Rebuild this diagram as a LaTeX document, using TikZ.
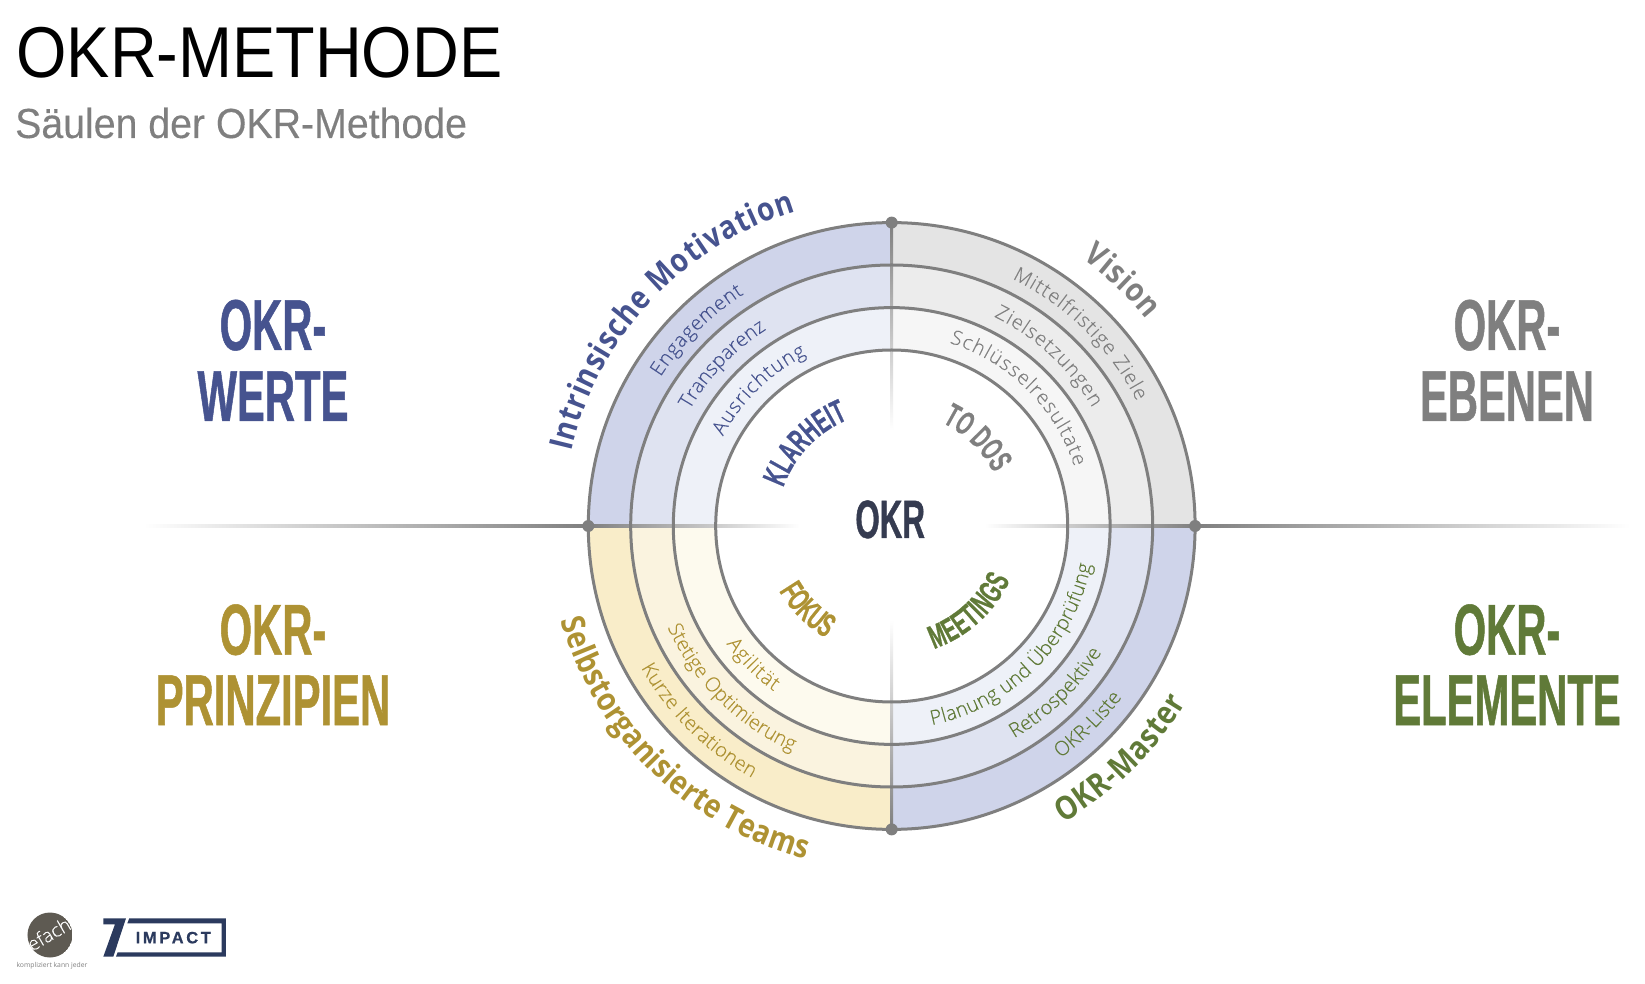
\documentclass[tikz,border=0pt]{standalone}
\usepackage{fontspec}
\setmainfont{Liberation Sans}
\newfontfamily\titlefont[FakeStretch=0.9]{Liberation Sans}
\newfontfamily\subfont[FakeStretch=0.935,FakeBold=0.3]{Liberation Sans}
\newfontfamily\condfont[FakeStretch=0.58,FakeBold=0.7]{Liberation Sans}
\newfontfamily\ringfont[FakeStretch=0.86]{Open Sans}
\newfontfamily\plainfont{Open Sans}
\newfontfamily\lightfont[FakeBold=0.15]{Open Sans Light}
\newfontfamily\logofont[LetterSpace=16,FakeBold=0.5]{Liberation Sans}
\usetikzlibrary{decorations.text}
\definecolor{bluetext}{HTML}{46538F}
\definecolor{goldtext}{HTML}{AE9233}
\definecolor{greentext}{HTML}{607A38}
\definecolor{greytext}{HTML}{7F7F7F}
\definecolor{okrtext}{HTML}{353B50}
\definecolor{navylogo}{HTML}{2B3A5E}
\definecolor{efachlogo}{HTML}{5E5A52}
\definecolor{blueA}{HTML}{CFD4EA}
\definecolor{blueB}{HTML}{DFE3F1}
\definecolor{blueC}{HTML}{EEF1F8}
\definecolor{greyA}{HTML}{E4E4E4}
\definecolor{greyB}{HTML}{ECECEC}
\definecolor{greyC}{HTML}{F6F6F6}
\definecolor{goldA}{HTML}{F9EDC9}
\definecolor{goldB}{HTML}{FAF3DF}
\definecolor{goldC}{HTML}{FDFAEE}
\tikzset{ringline/.style={draw=greytext,line width=3pt},
    dotmark/.style={circle,fill=greytext,inner sep=0pt,minimum size=12pt},
    bigword/.style={inner sep=0pt,anchor=base,font=\condfont\bfseries\fontsize{72}{72}\selectfont}}
\newcommand{\ringtext}[5]{\path[decorate,decoration={text along path,text align={fit to path},text={|#4|#5}}] (#2:#1) arc (#2:#3:#1);}
\newcommand{\quarter}[5]{\fill[#2] (0,0)--(#1:\rd) arc (#1:#1+90:\rd)--cycle;
    \fill[#3] (0,0)--(#1:\rc) arc (#1:#1+90:\rc)--cycle;
    \fill[#4] (0,0)--(#1:\rb) arc (#1:#1+90:\rb)--cycle;}
\begin{document}
\begin{tikzpicture}[x=1pt,y=1pt]
    \def\ra{176}
    \def\rb{218.4}
    \def\rc{261}
    \def\rd{303.4}
    \def\bigsize{\fontsize{32.5}{33}\selectfont}
    \def\midsize{\fontsize{20}{20}\selectfont}
    \def\smallsize{\fontsize{33}{33}\selectfont}
    \useasboundingbox (-891.7,-458) rectangle (753.3,526);
    \quarter{90}{blueA}{blueB}{blueC}{}
    \quarter{0}{greyA}{greyB}{greyC}{}
    \quarter{180}{goldA}{goldB}{goldC}{}
    \quarter{270}{blueA}{blueB}{blueC}{}
    \fill[white] (0,0) circle(\ra);
    \shade[left color=white,right color=greytext] (-748,-1.5) rectangle (-\rd,1.5);
    \shade[left color=greytext,right color=white] (-\rd,-1.5) rectangle (-92,1.5);
    \shade[left color=white,right color=greytext] (93,-1.5) rectangle (\rd,1.5);
    \shade[left color=greytext,right color=white] (\rd,-1.5) rectangle (738,1.5);
    \shade[bottom color=white,top color=greytext] (-1.5,96) rectangle (1.5,\rd);
    \shade[top color=white,bottom color=greytext] (-1.5,-\rd) rectangle (1.5,-94);
    \foreach \r in {\ra,\rb,\rc,\rd}
        \draw[ringline] (0,0) circle(\r);
    \node[dotmark] (dotleft) at (-\rd,0) {};
    \node[dotmark] (dotright) at (\rd,0) {};
    \node[dotmark] (dottop) at (0,\rd) {};
    \node[dotmark] (dotbottom) at (0,-\rd) {};
    \ringtext{329}{167}{107}{\ringfont\bfseries\bigsize\color{bluetext}}{Intrinsische Motivation}
    \ringtext{275}{147.2}{122.5}{\lightfont\midsize\color{bluetext}}{Engagement}
    \ringtext{233}{150.1}{122.5}{\lightfont\midsize\color{bluetext}}{Transparenz}
    \ringtext{191}{152}{116.5}{\lightfont\midsize\color{bluetext}}{Ausrichtung}
    \ringtext{115}{160.5}{113.3}{\condfont\bfseries\smallsize\color{bluetext}}{KLARHEIT}
    \ringtext{328}{54.5}{39}{\ringfont\bfseries\bigsize\color{greytext}}{Vision}
    \ringtext{275}{64}{27}{\lightfont\midsize\color{greytext}}{Mittelfristige Ziele}
    \ringtext{233}{64}{30.5}{\lightfont\midsize\color{greytext}}{Zielsetzungen}
    \ringtext{192}{72.5}{18}{\lightfont\midsize\color{greytext}}{Schlüsselresultate}
    \ringtext{115}{64}{30}{\condfont\bfseries\smallsize\color{greytext}}{TO DOS}
    \ringtext{344}{196}{255.5}{\ringfont\bfseries\bigsize\color{goldtext}}{Selbstorganisierte Teams}
    \ringtext{288}{209.5}{241}{\lightfont\midsize\color{goldtext}}{Kurze Iterationen}
    \ringtext{246}{204.3}{246}{\lightfont\midsize\color{goldtext}}{Stetige Optimierung}
    \ringtext{203}{215.5}{234.5}{\lightfont\midsize\color{goldtext}}{Agilität}
    \ringtext{130}{210}{239.5}{\condfont\bfseries\smallsize\color{goldtext}}{FOKUS}
    \ringtext{343}{300}{329}{\ringfont\bfseries\bigsize\color{greentext}}{OKR-Master}
    \ringtext{287}{306}{323}{\lightfont\midsize\color{greentext}}{OKR-Liste}
    \ringtext{245}{300}{329}{\lightfont\midsize\color{greentext}}{Retrospektive}
    \ringtext{203}{281.4}{349}{\lightfont\midsize\color{greentext}}{Planung und Überprüfung}
    \ringtext{130}{289}{335.5}{\condfont\bfseries\smallsize\color{greentext}}{MEETINGS}
    \node[inner sep=0pt,anchor=base,text=okrtext,font=\condfont\bfseries\fontsize{54}{54}\selectfont] (okr) at (-1.5,-12) {OKR};
    \node[inner sep=0pt,anchor=base west,font=\titlefont\fontsize{72}{72}\selectfont] (title) at (-875.5,448) {OKR-METHODE};
    \node[inner sep=0pt,anchor=base west,text=greytext,font=\subfont\fontsize{42}{42}\selectfont] (subtitle) at (-876.7,388) {Säulen der OKR-Methode};
    \node[bigword,text=bluetext] (werteA) at (-618.7,176) {OKR-};
    \node[bigword,text=bluetext] (werteB) at (-618.7,105) {WERTE};
    \node[bigword,text=greytext] (ebenenA) at (615.3,176) {OKR-};
    \node[bigword,text=greytext] (ebenenB) at (615.3,105) {EBENEN};
    \node[bigword,text=goldtext] (prinzipienA) at (-618.7,-128.6) {OKR-};
    \node[bigword,text=goldtext] (prinzipienB) at (-618.7,-199) {PRINZIPIEN};
    \node[bigword,text=greentext] (elementeA) at (615.3,-128.6) {OKR-};
    \node[bigword,text=greentext] (elementeB) at (615.3,-199) {ELEMENTE};
    \begin{scope}
        \clip (-841.7,-409) circle(22.5);
        \fill[efachlogo] (-841.7,-409) circle(22.5);
        \node[inner sep=0pt,rotate=30,text=white,font=\lightfont\fontsize{19}{19}\selectfont] (efach) at (-843,-408) {efach};
    \end{scope}
    \node[inner sep=0pt,text=greytext,font=\plainfont\fontsize{6.8}{8}\selectfont] (tagline) at (-839.7,-440) {kompliziert kann jeder};
    \begin{scope}[shift={(-891.7,-364)},x=.3333pt,y=-.3333pt]
        \fill[navylogo] (310,85)--(378,85)--(340,200)--(310,200)--(345,103)--(310,103)--cycle;
        \fill[navylogo] (388,85)--(678,85)--(678,200)--(348,200)--(353,187)--(665,187)--(665,100)--(382,100)--cycle;
        \node[inner sep=0pt,text=navylogo,font=\logofont\bfseries\fontsize{16.5}{16.5}\selectfont] (impact) at (520,143) {IMPACT};
    \end{scope}
\end{tikzpicture}
\end{document}
